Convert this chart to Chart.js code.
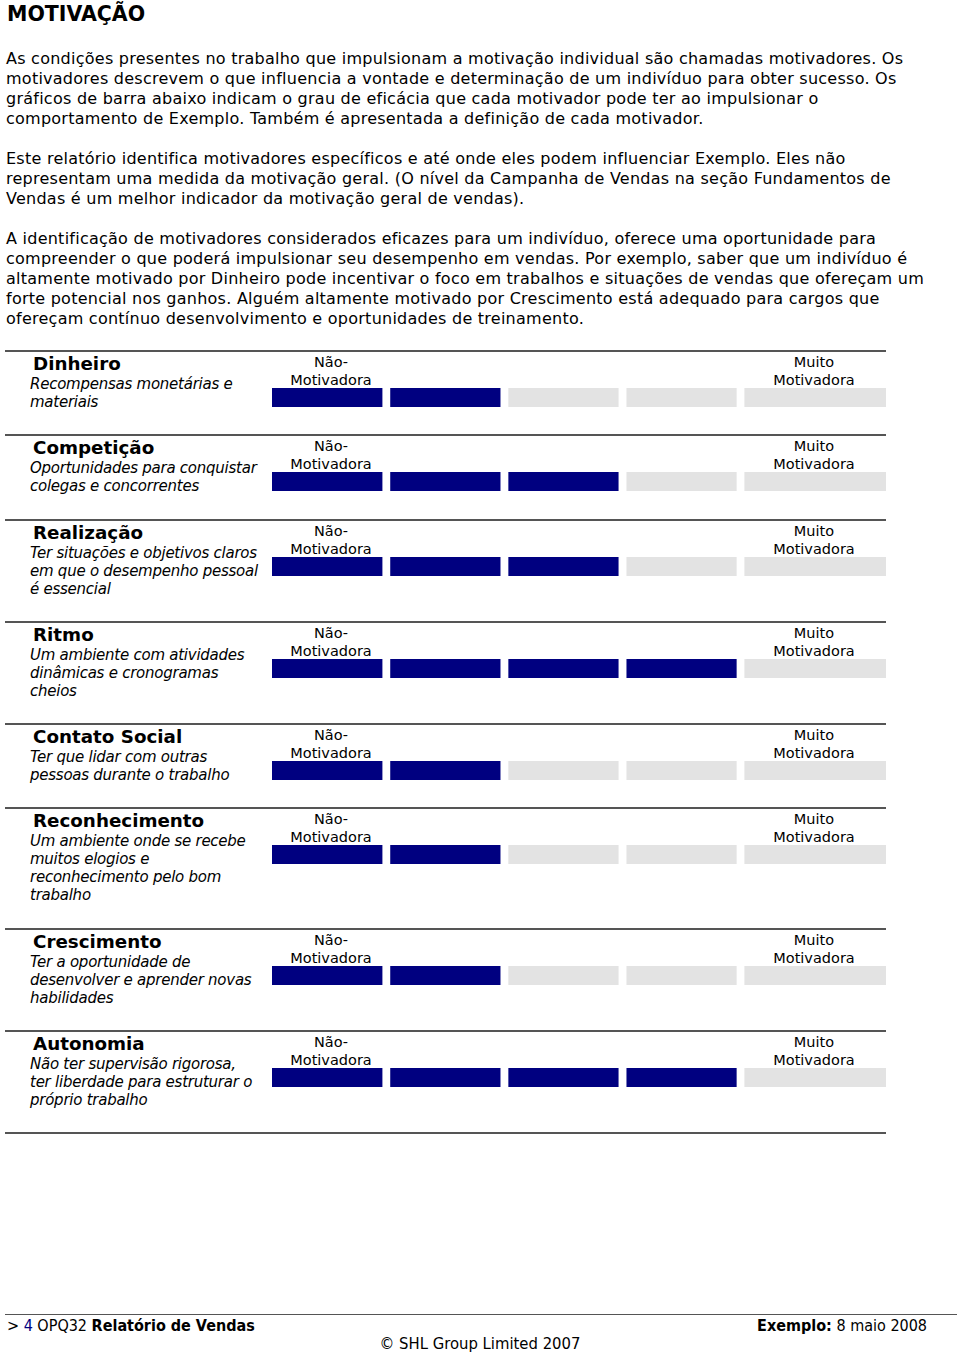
<!DOCTYPE html>
<html lang="pt">
<head>
<meta charset="utf-8">
<title>Motivação</title>
<script src="https://cdn.jsdelivr.net/npm/chart.js@4/dist/chart.umd.min.js"></script>
<style>
    body { margin: 0; background: #fff; color: #000; font-family: "DejaVu Sans", Verdana, sans-serif; }
    .page { position: relative; width: 960px; height: 1353px; overflow: hidden; }
    h1 { position: absolute; left: 7px; top: 1px; margin: 0; font-size: 20.5px; line-height: 26px; font-weight: bold; }
    .intro { position: absolute; left: 6px; top: 49px; font-size: 16px; line-height: 20px; letter-spacing: 0.25px; white-space: nowrap; }
    .intro p { margin: 0 0 20px 0; }
    .row { position: absolute; left: 5px; width: 881px; border-top: 2px solid #555; }
    .row .name { position: absolute; left: 28px; top: 1px; font-size: 18.3px; line-height: 22px; font-weight: bold; }
    .row .desc { position: absolute; left: 25px; top: 23px; font-size: 15px; line-height: 18px; letter-spacing: -0.25px; font-style: italic; white-space: nowrap; }
    .row .lbl { position: absolute; top: 1px; width: 140px; text-align: center; font-size: 14.5px; line-height: 18px; }
    .row canvas { position: absolute; left: 267px; }
    .rule-end { position: absolute; left: 5px; width: 881px; border-top: 2px solid #555; }
    .footer { position: absolute; left: 5px; top: 1314px; width: 952px; border-top: 1px solid #555; font-family: "DejaVu Sans Condensed", Tahoma, sans-serif; font-size: 16px; line-height: 18px; }
    .footer .left { position: absolute; left: 2px; top: 2px; }
    .footer .left .num { color: #000080; }
    .footer .right { position: absolute; right: 30px; top: 2px; }
    .footer .center { position: absolute; left: 0; width: 950px; top: 20px; text-align: center; font-size: 16.5px; }
</style>
</head>
<body>
<div class="page" id="page">
    <h1>MOTIVAÇÃO</h1>
    <div class="intro">
        <p>As condições presentes no trabalho que impulsionam a motivação individual são chamadas motivadores. Os<br>
        motivadores descrevem o que influencia a vontade e determinação de um indivíduo para obter sucesso. Os<br>
        gráficos de barra abaixo indicam o grau de eficácia que cada motivador pode ter ao impulsionar o<br>
        comportamento de Exemplo. Também é apresentada a definição de cada motivador.</p>
        <p>Este relatório identifica motivadores específicos e até onde eles podem influenciar Exemplo. Eles não<br>
        representam uma medida da motivação geral. (O nível da Campanha de Vendas na seção Fundamentos de<br>
        Vendas é um melhor indicador da motivação geral de vendas).</p>
        <p>A identificação de motivadores considerados eficazes para um indivíduo, oferece uma oportunidade para<br>
        compreender o que poderá impulsionar seu desempenho em vendas. Por exemplo, saber que um indivíduo é<br>
        altamente motivado por Dinheiro pode incentivar o foco em trabalhos e situações de vendas que ofereçam um<br>
        forte potencial nos ganhos. Alguém altamente motivado por Crescimento está adequado para cargos que<br>
        ofereçam contínuo desenvolvimento e oportunidades de treinamento.</p>
    </div>
    <div class="footer">
        <span class="left">&gt; <span class="num">4</span> OPQ32 <b>Relatório de Vendas</b></span>
        <span class="right"><b>Exemplo:</b> 8 maio 2008</span>
        <div class="center">© SHL Group Limited 2007</div>
    </div>
</div>
<script>
// Motivators and their scores (number of filled segments out of 5)
const motivators = ['Dinheiro', 'Competição', 'Realização', 'Ritmo', 'Contato Social', 'Reconhecimento', 'Crescimento', 'Autonomia'];
const descriptions = [
    ['Recompensas monetárias e', 'materiais'],
    ['Oportunidades para conquistar', 'colegas e concorrentes'],
    ['Ter situações e objetivos claros', 'em que o desempenho pessoal', 'é essencial'],
    ['Um ambiente com atividades', 'dinâmicas e cronogramas', 'cheios'],
    ['Ter que lidar com outras', 'pessoas durante o trabalho'],
    ['Um ambiente onde se recebe', 'muitos elogios e', 'reconhecimento pelo bom', 'trabalho'],
    ['Ter a oportunidade de', 'desenvolver e aprender novas', 'habilidades'],
    ['Não ter supervisão rigorosa,', 'ter liberdade para estruturar o', 'próprio trabalho']
];
const scores = [2, 3, 3, 4, 2, 2, 2, 4];
const scaleLevels = [1, 2, 3, 4, 5];
const lowLabel = ['Não-', 'Motivadora'];
const highLabel = ['Muito', 'Motivadora'];

// Styles
const FILLED = '#000080';
const EMPTY = '#e3e3e3';
const GAP = 8;
const LAST_STRETCH = 1.2;   // last cell of the table is wider
const FIRST_RULE = 350;
const BAR_W = 614, BAR_H = 19;

const page = document.getElementById('page');
let rowTop = FIRST_RULE;

motivators.forEach(function(name, r) {
    const lines = descriptions[r];
    const rowH = 48.3 + 18 * lines.length;

    const row = document.createElement('div');
    row.className = 'row';
    row.style.top = Math.round(rowTop) + 'px';
    row.style.height = Math.round(rowH) + 'px';
    row.innerHTML =
        '<div class="name">' + name + '</div>' +
        '<div class="desc">' + lines.join('<br>') + '</div>' +
        '<div class="lbl" style="left:256px">' + lowLabel.join('<br>') + '</div>' +
        '<div class="lbl" style="left:739px">' + highLabel.join('<br>') + '</div>';

    const canvas = document.createElement('canvas');
    canvas.width = BAR_W;
    canvas.height = BAR_H;
    canvas.style.top = '36px';
    row.appendChild(canvas);
    page.appendChild(row);

    new Chart(canvas.getContext('2d'), {
        type: 'bar',
        data: {
            labels: [name],
            datasets: scaleLevels.map(function(level, i) {
                const last = i === scaleLevels.length - 1;
                return {
                    label: String(level),
                    data: [last ? LAST_STRETCH : 1],
                    backgroundColor: level <= scores[r] ? FILLED : EMPTY,
                    borderColor: '#ffffff',
                    borderWidth: last ? 0 : { left: 0, top: 0, bottom: 0, right: GAP },
                    borderSkipped: false,
                    barPercentage: 1,
                    categoryPercentage: 1
                };
            })
        },
        options: {
            indexAxis: 'y',
            responsive: false,
            animation: false,
            devicePixelRatio: 1,
            layout: { padding: 0 },
            plugins: { legend: { display: false }, tooltip: { enabled: false } },
            scales: {
                x: { stacked: true, display: false, min: 0, max: scaleLevels.length - 1 + LAST_STRETCH },
                y: { stacked: true, display: false }
            }
        }
    });

    rowTop += rowH;
});

// closing rule under the last motivator
const endRule = document.createElement('div');
endRule.className = 'rule-end';
endRule.style.top = Math.round(rowTop) + 'px';
page.appendChild(endRule);
</script>
</body>
</html>
